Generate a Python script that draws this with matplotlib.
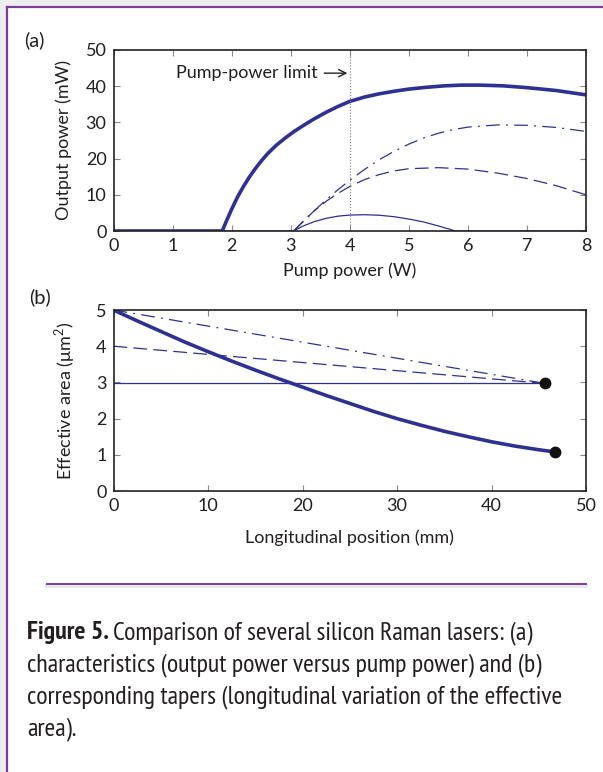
import numpy as np
import matplotlib.pyplot as plt
from matplotlib.patches import Rectangle
from matplotlib.lines import Line2D

# (a) output power vs pump power
pump_thick = [0, 1.84, 1.9, 2.0, 2.1, 2.2, 2.3, 2.4, 2.5, 2.6, 2.75, 2.9, 3.05, 3.2,
              3.4, 3.6, 3.8, 4.0, 4.25, 4.5, 4.75, 5.0, 5.3, 5.6, 5.9, 6.2, 6.6,
              7.0, 7.5, 8.0]
out_thick = [0, 0, 2.3, 6.0, 9.4, 12.3, 14.9, 17.2, 19.3, 21.2, 23.6, 25.6, 27.4, 29.0,
             31.0, 32.8, 34.4, 35.8, 37.0, 37.9, 38.6, 39.2, 39.7, 40.1, 40.3, 40.3, 40.1,
             39.6, 38.8, 37.6]
pump_dd = [3.05, 3.2, 3.4, 3.6, 3.8, 4.0, 4.25, 4.5, 4.75, 5.0, 5.25, 5.5, 5.75,
           6.0, 6.5, 7.0, 7.5, 8.0]
out_dd = [0, 2.4, 5.6, 8.6, 11.4, 14.0, 17.0, 19.7, 22.0, 24.0, 25.7, 27.0, 28.0,
          28.7, 29.3, 29.2, 28.6, 27.5]
pump_dash = [3.05, 3.2, 3.4, 3.6, 3.8, 4.0, 4.25, 4.5, 4.75, 5.0, 5.5, 6.0, 6.5,
             7.0, 7.5, 8.0]
out_dash = [0, 2.5, 5.6, 8.2, 10.4, 12.3, 14.2, 15.6, 16.6, 17.2, 17.5, 17.1, 16.0,
            14.5, 12.5, 10.0]
pump_thin = [1.84, 3.05, 3.2, 3.4, 3.6, 3.8, 4.0, 4.25, 4.5, 4.75, 5.0, 5.25, 5.5,
             5.75, 5.8, 8.0]
out_thin = [0, 0, 1.3, 2.6, 3.5, 4.1, 4.4, 4.5, 4.35, 3.95, 3.3, 2.5, 1.4, 0.2, 0, 0]

# (b) effective area vs longitudinal position
pos_thick = [0, 2.5, 5, 7.5, 10, 12.5, 15, 17.5, 20, 22.5, 25, 27.5, 30, 32.5, 35,
             37.5, 40, 42.5, 45, 46.7]
area_thick = [5, 4.7, 4.41, 4.12, 3.85, 3.59, 3.34, 3.1, 2.87, 2.64, 2.42, 2.2, 2.0,
              1.82, 1.65, 1.5, 1.36, 1.24, 1.14, 1.08]
pos_short = [0, 45.7]
area_dd = [5, 2.97]
area_dash = [4, 2.97]
area_thin = [2.97, 2.97]

caption_head = "Figure 5."
caption = ["Comparison of several silicon Raman lasers: (a)",
           "characteristics (output power versus pump power) and (b)",
           "corresponding tapers (longitudinal variation of the effective",
           "area)."]

blue = '#2e3192'
purple = '#7d3c98'
ink = '#231f20'
plt.rcParams['font.family'] = ['Lato', 'DejaVu Sans']
plt.rcParams['mathtext.fontset'] = 'custom'
plt.rcParams['mathtext.rm'] = 'Lato'
fs = 13

W, H = 603, 772
fig = plt.figure(figsize=(W / 100, H / 100), dpi=100)

def px(x, y):
    return x / W, 1 - y / H

# frame around the figure box
fig.patches.append(Rectangle((0, 1 - 6 / H), 1, 6 / H, transform=fig.transFigure,
                             color='#eeeeee', zorder=0))
fig.patches.append(Rectangle((0, 0), 6 / W, 1, transform=fig.transFigure,
                             color='#eeeeee', zorder=0))
fig.lines.append(Line2D([7 / W, 1], [1 - 7 / H, 1 - 7 / H], transform=fig.transFigure,
                        color=purple, lw=1.6))
fig.lines.append(Line2D([7 / W, 7 / W], [0, 1 - 7 / H], transform=fig.transFigure,
                        color=purple, lw=1.6))
fig.lines.append(Line2D([47 / W, 586 / W], [1 - 585.5 / H, 1 - 585.5 / H],
                        transform=fig.transFigure, color='#e8e8e8', lw=3))
fig.lines.append(Line2D([47 / W, 586 / W], [1 - 583.5 / H, 1 - 583.5 / H],
                        transform=fig.transFigure, color=purple, lw=1.4))

def style(ax):
    ax.tick_params(direction='in', length=4, width=0.8, color='#888888',
                   top=True, right=True, labelsize=fs, pad=5, labelcolor=ink)
    for s in ax.spines.values():
        s.set_linewidth(1.2)
        s.set_color('#222222')

ax1 = fig.add_axes([113.5 / W, 1 - 231 / H, 472.5 / W, 181 / H])
ax1.plot(pump_thick, out_thick, color=blue, lw=2.6, solid_capstyle='butt')
ax1.plot(pump_dd, out_dd, color=blue, lw=0.9, dashes=(11, 5, 1.5, 5))
ax1.plot(pump_dash, out_dash, color=blue, lw=0.9, dashes=(11, 5))
ax1.plot(pump_thin, out_thin, color=blue, lw=0.9)
ax1.axvline(4, color='#777777', lw=0.8, ls=':')
ax1.annotate('Pump-power limit', xy=(3.96, 43.6), xytext=(3.45, 43.6),
             ha='right', va='center', fontsize=fs, color=ink,
             arrowprops=dict(arrowstyle='->', lw=1, color='#222222',
                             shrinkA=3, shrinkB=0))
ax1.set_xlim(0, 8)
ax1.set_ylim(0, 50)
ax1.set_xticks(range(0, 9))
ax1.set_yticks(range(0, 51, 10))
ax1.set_xlabel('Pump power (W)', fontsize=fs, labelpad=6, color=ink)
ax1.set_ylabel('Output power (mW)', fontsize=fs, labelpad=10, color=ink)
style(ax1)

ax2 = fig.add_axes([113.5 / W, 1 - 491 / H, 472.5 / W, 181 / H])
ax2.plot(pos_thick, area_thick, color=blue, lw=2.6, solid_capstyle='butt')
ax2.plot(pos_short, area_dd, color=blue, lw=0.9, dashes=(11, 5, 1.5, 5))
ax2.plot(pos_short, area_dash, color=blue, lw=0.9, dashes=(11, 5))
ax2.plot(pos_short, area_thin, color=blue, lw=0.9)
ax2.plot([pos_short[-1]], [area_thin[-1]], 'o', color='#111111', ms=7.5)
ax2.plot([pos_thick[-1]], [area_thick[-1]], 'o', color='#111111', ms=7.5)
ax2.set_xlim(0, 50)
ax2.set_ylim(0, 5)
ax2.set_xticks(range(0, 51, 10))
ax2.set_yticks(range(0, 6))
ax2.set_xlabel('Longitudinal position (mm)', fontsize=fs, labelpad=11, color=ink)
ax2.set_ylabel('Effective area (μm$^2$)', fontsize=fs, labelpad=14, color=ink)
style(ax2)

fig.text(*px(24, 40), '(a)', fontsize=14.5, va='center', ha='left', color=ink)
fig.text(*px(29, 297), '(b)', fontsize=14.5, va='center', ha='left', color=ink)

# caption, sized so that the first line spans the reference width
cap_font = ['PT Sans Narrow', 'DejaVu Sans']
renderer = fig.canvas.get_renderer()
y0 = 633
cfs = 16
head = fig.text(*px(27, y0), caption_head, fontsize=cfs, fontweight='bold',
                family=cap_font, va='center', color=ink)
first = fig.text(0, 1 - y0 / H, caption[0], fontsize=cfs, family=cap_font,
                 va='center', color=ink)
hb = head.get_window_extent(renderer)
fb = first.get_window_extent(renderer)
cfs = cfs * 508 / (hb.width + 4 + fb.width)
head.set_fontsize(cfs)
first.set_fontsize(cfs)
hb = head.get_window_extent(renderer)
first.set_x((hb.x1 + 4) / W)
for i, line in enumerate(caption[1:]):
    fig.text(*px(27, y0 + 32 * (i + 1)), line, fontsize=cfs, family=cap_font,
             va='center', color=ink)

fig.savefig('out.png', dpi=100)
